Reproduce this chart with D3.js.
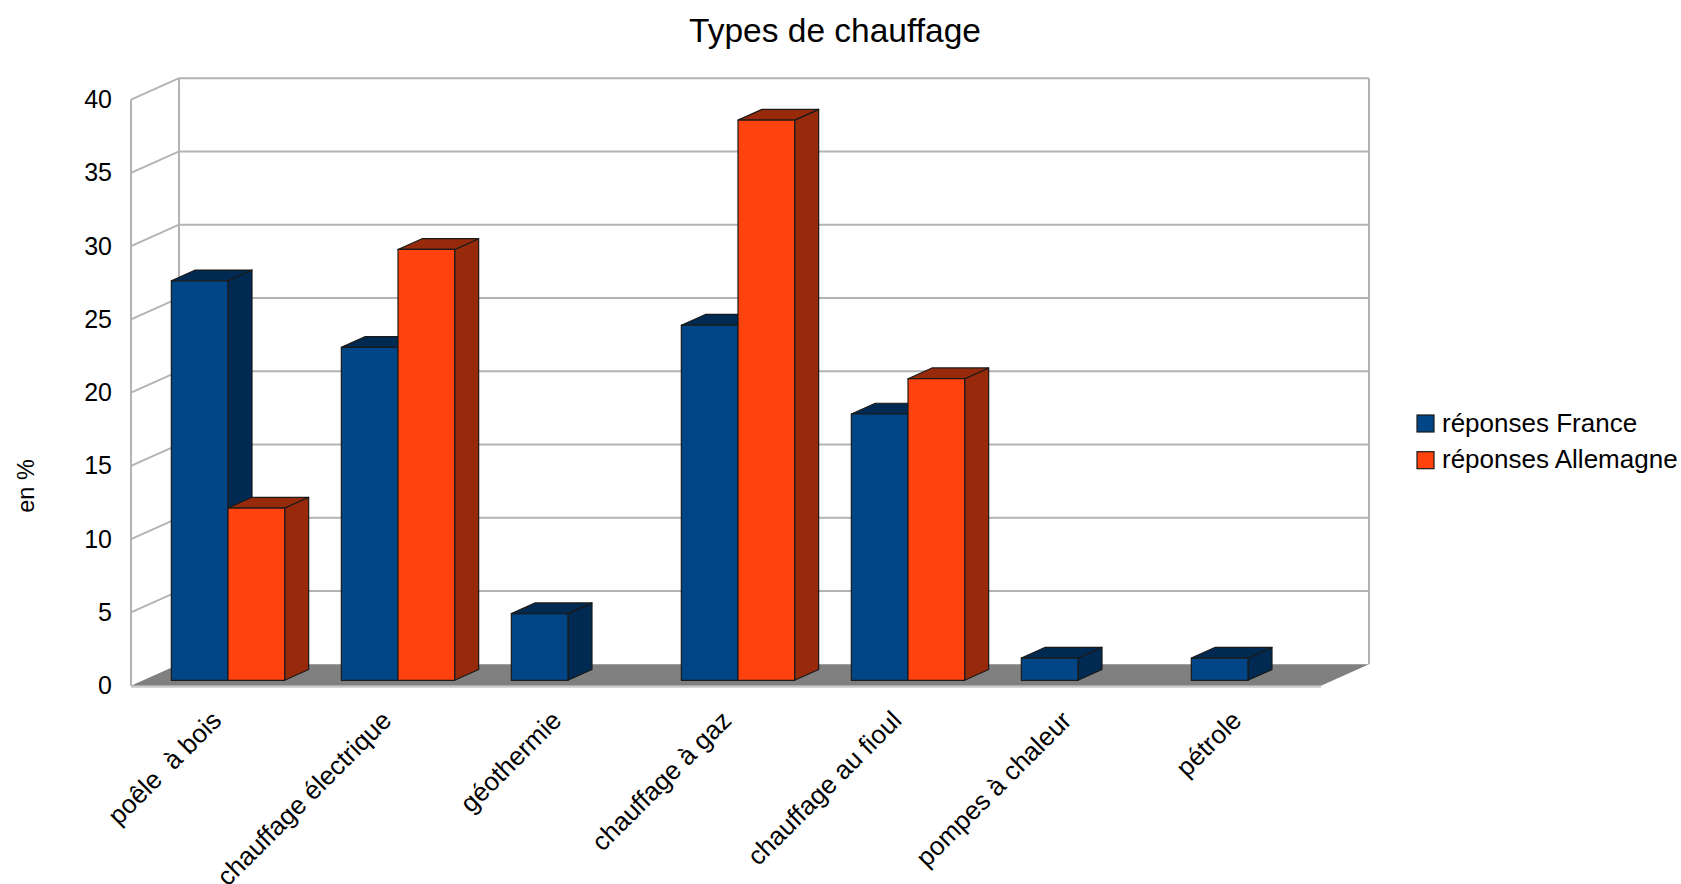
<!DOCTYPE html>
<html>
<head>
<meta charset="utf-8">
<script src="https://cdn.jsdelivr.net/npm/d3@7"></script>
<style>
  body { margin: 0; background: #fff; }
  text { font-family: "Liberation Sans", Arial, sans-serif; fill: #000; }
</style>
</head>
<body>
<svg id="chart" width="1681" height="884"></svg>
<script>
// data (in %)
var categories = ['poêle  à bois', 'chauffage électrique', 'géothermie', 'chauffage à gaz', 'chauffage au fioul', 'pompes à chaleur', 'pétrole'];
var seriesNames = ['réponses France', 'réponses Allemagne'];
var france = [27.27, 22.73, 4.55, 24.24, 18.18, 1.52, 1.52];
var allemagne = [11.76, 29.41, 0, 38.24, 20.59, 0, 0];
var yTicks = [0, 5, 10, 15, 20, 25, 30, 35, 40];

var frontColors = ['#004586', '#ff420e'];
var darkColors = ['#002a52', '#972a0b'];

var svg = d3.select('#chart');

// front plane of the box, and the depth vector to the back wall
var left = 131, width = 1190;
var depth = { dx: 48, dy: -21.5 };
var zFront = 0.25, zBack = 0.75;

var y = d3.scaleLinear().domain([0, 40]).range([685.7, 99.7]);
var x = d3.scaleBand().domain(categories).range([0, width]).paddingInner(1 / 3).paddingOuter(1 / 6);
var xs = d3.scaleBand().domain(seriesNames).range([0, x.bandwidth()]);

function P(xv, v, z) {
    return [left + xv + z * depth.dx, y(v) + z * depth.dy];
}
function poly(pts) {
    return 'M' + pts.map(function (p) { return p[0] + ',' + p[1]; }).join('L') + 'Z';
}

// grid: back wall lines + left wall lines
var grid = svg.append('g').attr('stroke', '#b3b3b3').attr('stroke-width', 2).attr('fill', 'none');
yTicks.forEach(function (t) {
    var a = P(0, t, 0), b = P(0, t, 1), c = P(width, t, 1);
    if (t > 0) grid.append('path').attr('d', 'M' + a + 'L' + b + 'L' + c);
});
grid.append('line').attr('x1', P(0, 0, 0)[0]).attr('y1', P(0, 0, 0)[1]).attr('x2', P(0, 40, 0)[0]).attr('y2', P(0, 40, 0)[1]);
grid.append('line').attr('x1', P(0, 0, 1)[0]).attr('y1', P(0, 0, 1)[1]).attr('x2', P(0, 40, 1)[0]).attr('y2', P(0, 40, 1)[1]);
grid.append('line').attr('x1', P(width, 0, 1)[0]).attr('y1', P(width, 0, 1)[1]).attr('x2', P(width, 40, 1)[0]).attr('y2', P(width, 40, 1)[1]);

// floor
svg.append('path')
    .attr('d', poly([P(0, 0, 0), P(width, 0, 0), P(width, 0, 1), P(0, 0, 1)]))
    .attr('fill', '#808080');
svg.append('line')
    .attr('x1', P(0, 0, 0)[0]).attr('y1', P(0, 0, 0)[1] + 1)
    .attr('x2', P(width, 0, 0)[0]).attr('y2', P(width, 0, 0)[1] + 1)
    .attr('stroke', '#c8c8c8').attr('stroke-width', 2);

// bars
var bars = svg.append('g').attr('stroke', '#1a1a1a').attr('stroke-width', 1.2).attr('stroke-linejoin', 'round');
categories.forEach(function (c, i) {
    [france, allemagne].forEach(function (vals, s) {
        var v = vals[i];
        if (!v) return;
        var x0 = x(c) + xs(seriesNames[s]), x1 = x0 + xs.bandwidth();
        // side
        bars.append('path').attr('fill', darkColors[s])
            .attr('d', poly([P(x1, 0, zFront), P(x1, 0, zBack), P(x1, v, zBack), P(x1, v, zFront)]));
        // top
        bars.append('path').attr('fill', darkColors[s])
            .attr('d', poly([P(x0, v, zFront), P(x1, v, zFront), P(x1, v, zBack), P(x0, v, zBack)]));
        // front
        bars.append('path').attr('fill', frontColors[s])
            .attr('d', poly([P(x0, 0, zFront), P(x1, 0, zFront), P(x1, v, zFront), P(x0, v, zFront)]));
    });
});

// y tick labels
var yAxis = svg.append('g')
    .attr('transform', 'translate(112,0)')
    .call(d3.axisLeft(y).tickValues(yTicks).tickSize(0).tickPadding(0));
yAxis.select('.domain').remove();
yAxis.selectAll('text')
    .style('font-family', '"Liberation Sans", Arial, sans-serif')
    .style('font-size', '25px')
    .attr('fill', '#000');

// category labels
svg.append('g').selectAll('text')
    .data(categories)
    .join('text')
    .attr('transform', function (d) {
        var p = P(x(d) + x.bandwidth() / 2, 0, zFront);
        return 'translate(' + (p[0] - 5) + ',722) rotate(-45)';
    })
    .attr('text-anchor', 'end')
    .style('font-size', '26px')
    .style('white-space', 'pre')
    .text(function (d) { return d; });

// title
svg.append('text')
    .attr('x', 835).attr('y', 42)
    .attr('text-anchor', 'middle')
    .style('font-size', '33.5px')
    .text('Types de chauffage');

// y axis title
svg.append('text')
    .attr('transform', 'translate(34,486) rotate(-90)')
    .attr('text-anchor', 'middle')
    .style('font-size', '23.5px')
    .text('en %');

// legend
var legend = svg.append('g').attr('transform', 'translate(1417,415)');
seriesNames.forEach(function (n, i) {
    legend.append('rect')
        .attr('x', 0).attr('y', i * 36.7)
        .attr('width', 17).attr('height', 17)
        .attr('fill', frontColors[i]).attr('stroke', '#1a1a1a').attr('stroke-width', 1.2);
    legend.append('text')
        .attr('x', 25).attr('y', i * 36.7 + 16.5)
        .style('font-size', '26px')
        .text(n);
});
</script>
</body>
</html>
